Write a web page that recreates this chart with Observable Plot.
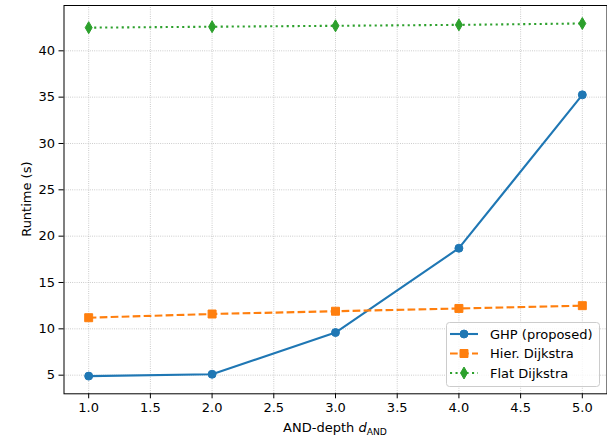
<!DOCTYPE html>
<html><head><meta charset="utf-8">
<script src="https://cdn.jsdelivr.net/npm/d3@7"></script>
<script src="https://cdn.jsdelivr.net/npm/@observablehq/plot@0.6"></script>
<style>
body{margin:0;background:#fff;}
#chart{position:relative;width:607px;height:438px;}
svg{font-family:"DejaVu Sans",sans-serif;}
</style>
</head><body><div id="chart"></div>
<script>
// ---- data ----
const depths = [1, 2, 3, 4, 5];
const ghp = [4.9, 5.1, 9.6, 18.7, 35.25];
const hier = [11.2, 11.6, 11.9, 12.2, 12.5];
const flat = [42.5, 42.6, 42.7, 42.8, 42.95];
const seriesNames = ["GHP (proposed)", "Hier. Dijkstra", "Flat Dijkstra"];
const seriesColors = ["#1f77b4", "#ff7f0e", "#2ca02c"];
const xTicks = [1.0, 1.5, 2.0, 2.5, 3.0, 3.5, 4.0, 4.5, 5.0];
const yTicks = [5, 10, 15, 20, 25, 30, 35, 40];
const xLabelMain = "AND-depth ";
const xLabelVar = "d";
const xLabelSub = "AND";
const yLabel = "Runtime (s)";

// ---- styles ----
const thinDiamond = {
  draw(ctx, size) {
    const r = Math.sqrt(size / Math.PI);
    const h = r * 1.3, w = r * 0.76;
    ctx.moveTo(0, -h); ctx.lineTo(w, 0); ctx.lineTo(0, h); ctx.lineTo(-w, 0); ctx.closePath();
  }
};
const styles = [
  {dash: null, symbol: "circle", r: 4},
  {dash: "7.7,3.3", symbol: "square", r: 4.5},
  {dash: "2.1,3.4", symbol: thinDiamond, r: 4.6}
];
const seriesValues = [ghp, hier, flat];
const series = seriesNames.map((name, i) => ({
  name, color: seriesColors[i], ...styles[i],
  rows: depths.map((d, j) => ({x: d, y: seriesValues[i][j]}))
}));

const W = 607, H = 438;
const mL = 63.5, mR = 0.5, mT = 5, mB = 44.7;

const gridStyle = {stroke: "#b0b0b0", strokeOpacity: 1, strokeWidth: 0.8, strokeDasharray: "0.8,1.4"};

const marks = [
  Plot.gridX(xTicks, gridStyle),
  Plot.gridY(yTicks, gridStyle)
];
for (const s of series) {
  marks.push(Plot.line(s.rows, {x: "x", y: "y", stroke: s.color, strokeWidth: 2.1,
    strokeLinecap: "butt", strokeLinejoin: "round",
    strokeDasharray: s.dash || undefined}));
  marks.push(Plot.dot(s.rows, {x: "x", y: "y", fill: s.color, stroke: s.color, strokeWidth: 1,
    symbol: () => s.symbol, r: s.r}));
}
marks.push(Plot.frame({stroke: "black", strokeWidth: 1}));
marks.push(Plot.axisX(xTicks, {tickFormat: d => d.toFixed(1), tickSize: 5, tickPadding: 4,
  label: null, fontSize: 13, color: "#000", stroke: "black"}));
marks.push(Plot.axisY(yTicks, {tickSize: 5, tickPadding: 4, label: null, fontSize: 13, stroke: "black"}));

const plot = Plot.plot({
  width: W, height: H,
  marginLeft: mL, marginRight: mR, marginTop: mT, marginBottom: mB,
  style: {fontFamily: "DejaVu Sans", fontSize: "13px", color: "#000", background: "#fff"},
  x: {domain: [0.8, 5.2]},
  y: {domain: [2.99, 44.89]},
  symbol: {type: "identity"},
  marks
});
document.getElementById("chart").appendChild(plot);

const svg = d3.select(plot);
// x label with italic variable and subscript
const xl = svg.append("text")
  .attr("x", (mL + W - mR) / 2).attr("y", 432)
  .attr("text-anchor", "middle")
  .attr("font-family", "DejaVu Sans").attr("font-size", 13).attr("fill", "#000");
xl.append("tspan").text(xLabelMain);
xl.append("tspan").attr("font-style", "italic").text(xLabelVar);
xl.append("tspan").attr("font-size", 9.2).attr("dy", 3).text(xLabelSub);

// y label
svg.append("text")
  .attr("transform", `translate(26,${(mT + H - mB) / 2}) rotate(-90)`)
  .attr("text-anchor", "middle").attr("dy", "0.35em")
  .attr("font-family", "DejaVu Sans").attr("font-size", 13).attr("fill", "#000")
  .text(yLabel);

// legend
const lg = svg.append("g").attr("transform", "translate(446.5,322.5)");
lg.append("rect").attr("width", 153).attr("height", 64).attr("rx", 3)
  .attr("fill", "white").attr("fill-opacity", 0.8).attr("stroke", "#cccccc").attr("stroke-width", 1);
series.forEach((s, i) => {
  const y = 11.5 + i * 19.5;
  lg.append("line").attr("x1", 3.5).attr("x2", 31.5).attr("y1", y).attr("y2", y)
    .attr("stroke", s.color).attr("stroke-width", 2.1).attr("stroke-linecap", "butt")
    .attr("stroke-dasharray", s.dash || null);
  lg.append("path").attr("transform", `translate(17.5,${y})`)
    .attr("d", d3.symbol(typeof s.symbol === "string" ? (s.symbol === "circle" ? d3.symbolCircle : d3.symbolSquare) : s.symbol, Math.PI * s.r * s.r)())
    .attr("fill", s.color).attr("stroke", s.color).attr("stroke-width", 1);
  lg.append("text").attr("x", 43.5).attr("y", y).attr("dy", "0.36em")
    .attr("text-anchor", "start")
    .attr("font-family", "DejaVu Sans").attr("font-size", 13).attr("fill", "#000")
    .text(s.name);
});
</script>
</body></html>
